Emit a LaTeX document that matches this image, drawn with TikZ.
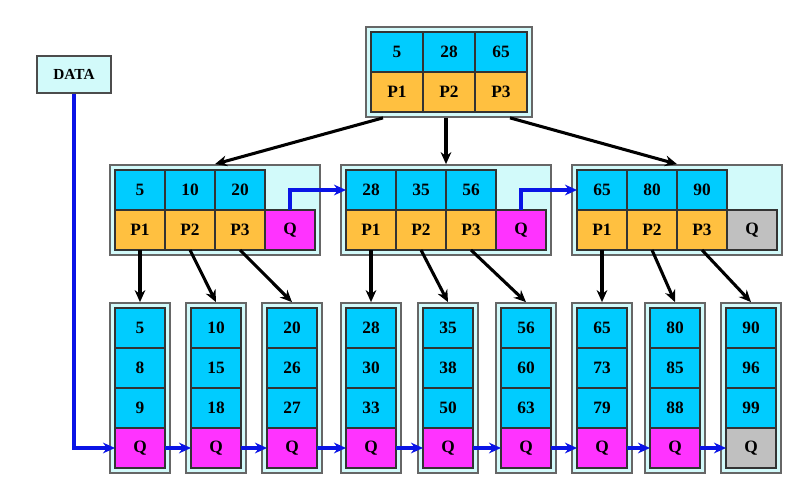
\documentclass[tikz,border=0pt]{standalone}
\usepackage{fontspec}
\setmainfont{Liberation Serif}
\usepackage{tikz}
\usetikzlibrary{positioning,arrows.meta,calc,fit,backgrounds}

\definecolor{keyblue}{HTML}{00CCFF}
\definecolor{ptrorange}{HTML}{FFC040}
\definecolor{qmagenta}{HTML}{FF33FF}
\definecolor{qgray}{HTML}{C0C0C0}
\definecolor{frmcyan}{HTML}{D2FAFA}
\definecolor{linkblue}{HTML}{0A14E6}

\begin{document}
\begin{tikzpicture}[
  x=0.75pt, y=-0.75pt,
  font=\bfseries\fontsize{13}{15}\selectfont,
  cell/.style={draw=black!80, line width=0.8pt, inner sep=0pt, outer sep=0pt,
               minimum width=37.5pt, minimum height=30pt},
  kcell/.style={cell, fill=keyblue},
  pcell/.style={cell, fill=ptrorange},
  qcell/.style={cell, fill=qmagenta},
  frm/.style={draw=black!60, line width=1.3pt, fill=frmcyan, inner sep=3.75pt},
  arr/.style={-{Stealth[length=9pt,width=8pt]}, line width=2.3pt},
  barr/.style={arr, draw=linkblue},
  node distance=0pt
]
\useasboundingbox (0,0) rectangle (789,488);
% ----- root -----
\node[kcell, minimum width=39pt] (rk1) at (397,52) {5};
\node[kcell, minimum width=39pt, right=of rk1] (rk2) {28};
\node[kcell, minimum width=39pt, right=of rk2] (rk3) {65};
\node[pcell, minimum width=39pt, below=of rk1] (rp1) {P1};
\node[pcell, minimum width=39pt, below=of rk2] (rp2) {P2};
\node[pcell, minimum width=39pt, below=of rk3] (rp3) {P3};
\begin{scope}[on background layer]
  \node[frm, fit=(rk1)(rp3)] (root) {};
\end{scope}
% ----- inner nodes -----
\foreach \m/\x/\ka/\kb/\kc/\qc in {1/140/5/10/20/qmagenta, 2/371/28/35/56/qmagenta, 3/602/65/80/90/qgray}{
  \node[kcell] (m\m k1) at (\x,190) {\ka};
  \node[kcell, right=of m\m k1] (m\m k2) {\kb};
  \node[kcell, right=of m\m k2] (m\m k3) {\kc};
  \node[pcell, below=of m\m k1] (m\m p1) {P1};
  \node[pcell, below=of m\m k2] (m\m p2) {P2};
  \node[pcell, below=of m\m k3] (m\m p3) {P3};
  \node[qcell, fill=\qc, right=of m\m p3] (m\m q) {Q};
  \begin{scope}[on background layer]
    \node[frm, fit=(m\m k1)(m\m q)] (mid\m) {};
  \end{scope}
}
% ----- leaves -----
\foreach \i/\x/\ka/\kb/\kc/\qc in {1/140/5/8/9/qmagenta, 2/216/10/15/18/qmagenta, 3/292/20/26/27/qmagenta,
    4/371/28/30/33/qmagenta, 5/448/35/38/50/qmagenta, 6/526/56/60/63/qmagenta,
    7/602/65/73/79/qmagenta, 8/675/80/85/88/qmagenta, 9/751/90/96/99/qgray}{
  \node[kcell] (l\i a) at (\x,328) {\ka};
  \node[kcell, below=of l\i a] (l\i b) {\kb};
  \node[kcell, below=of l\i b] (l\i c) {\kc};
  \node[qcell, fill=\qc, below=of l\i c] (l\i q) {Q};
  \begin{scope}[on background layer]
    \node[frm, fit=(l\i a)(l\i q)] (leaf\i) {};
  \end{scope}
}
% ----- data entry -----
\node[draw=black!70, line width=1.3pt, fill=frmcyan, minimum width=55.5pt, minimum height=27.75pt,
      font=\bfseries\fontsize{11.5}{13}\selectfont] (data) at (74,74.5) {DATA};
% ----- tree arrows -----
\draw[arr] ($(root.south -| rp1)+(-14,0)$) -- (mid1.north);
\draw[arr] (root.south -| mid2.north) -- (mid2.north);
\draw[arr] ($(root.south -| rp3)+(9,0)$) -- (mid3.north);
\foreach \a/\b in {m1p1/leaf1, m1p2/leaf2, m1p3/leaf3, m2p1/leaf4, m2p2/leaf5, m2p3/leaf6,
                   m3p1/leaf7, m3p2/leaf8, m3p3/leaf9}{\draw[arr] (\a.south) -- (\b.north);}
% ----- links -----
\draw[barr] (m1q.north) |- (m2k1.west);
\draw[barr] (m2q.north) |- (m3k1.west);
\draw[barr] (data.south) |- (l1q.west);
\foreach \a/\b in {1/2, 2/3, 3/4, 4/5, 5/6, 6/7, 7/8, 8/9}{\draw[barr] (l\a q.east) -- (l\b q.west);}
\end{tikzpicture}
\end{document}
